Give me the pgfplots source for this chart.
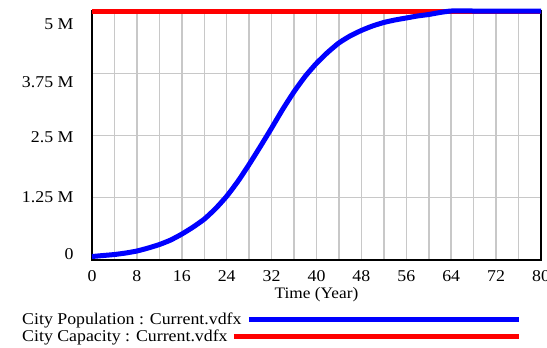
\documentclass[border=0pt]{standalone}
\usepackage{pgfplots}
\pgfplotsset{compat=1.18}
\usepackage{fontspec}
\setmainfont{Liberation Serif}[FakeStretch=1.08]
\definecolor{gridgray}{RGB}{200,200,200}
\pgfplotsset{
  redleg/.style={legend image code/.code={\draw[##1] (-14pt,0pt) -- (271pt,0pt);}},
  blueleg/.style={legend image code/.code={\draw[##1] (1pt,0pt) -- (271pt,0pt);}},
}
\begin{document}
\begin{tikzpicture}[font=\fontsize{16.5}{19}\selectfont]
\useasboundingbox (0,0) rectangle (547pt,348pt);
\begin{axis}[
  at={(92pt,88pt)}, anchor=south west,
  width=449pt, height=249pt, scale only axis,
  xmin=0, xmax=80, ymin=0, ymax=5,
  clip=false,
  axis line style={black, line width=2pt},
  xtick={0,8,...,80},
  minor xtick={4,12,...,76},
  ytick={0,1.25,2.5,3.75,5},
  yticklabels={\raisebox{8pt}[\height][\depth]{0},\raisebox{3pt}[\height][\depth]{1.25 M},2.5 M,\raisebox{-7pt}[\height][\depth]{3.75 M},\raisebox{-11pt}[\height][\depth]{5 M}},
  grid=both,
  major grid style={gridgray, line width=1.5pt},
  minor grid style={gridgray, line width=1.5pt},
  major tick length=0pt, minor tick length=0pt,
  /pgf/number format/assume math mode=true,
  yticklabel style={xshift=-15pt, yshift=-2pt},
  xticklabel style={yshift=-7pt},
  xlabel={Time (Year)},
  xlabel style={at={(axis description cs:0.5,0)}, anchor=center, yshift=-35pt, font=\fontsize{16}{19}\selectfont},
  legend plot pos=right,
  legend cell align=left,
  reverse legend,
  legend style={at={(axis description cs:-0.167,-0.197)}, anchor=north west, draw=none, fill=none, column sep=-12pt, row sep=0pt},
]
\addplot[red, line width=5pt, redleg] coordinates {(0,5) (80,5)};
\addlegendentry{City Capacity : Current.vdfx}
\addplot[blue, line width=5pt, smooth, tension=0.3, blueleg] coordinates {
(0,0.07) (2,0.09) (4,0.11) (6,0.14) (8,0.18) (10,0.24) (12,0.31) (14,0.40)
(16,0.52) (18,0.66) (20,0.82) (22,1.03) (24,1.28) (26,1.58) (28,1.92) (30,2.28)
(32,2.65) (34,3.03) (36,3.38) (38,3.69) (40,3.95) (42,4.17) (44,4.36) (46,4.50)
(48,4.61) (50,4.70) (52,4.77) (54,4.82) (56,4.86) (58,4.90) (60,4.93) (62,4.97)
(64,5.0) (68,5.0) (72,5.0) (76,5.0) (80,5.0)};
\addlegendentry{City Population : Current.vdfx}
\end{axis}
\end{tikzpicture}
\end{document}
